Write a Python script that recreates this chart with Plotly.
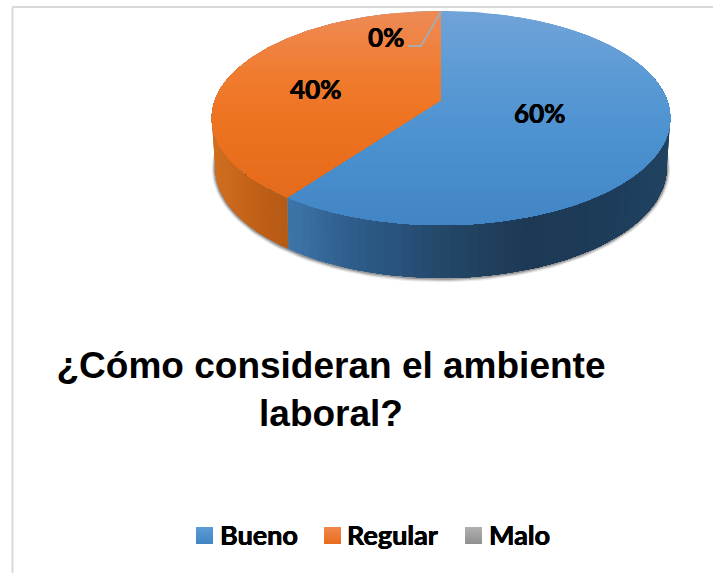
import numpy as np
import plotly.graph_objects as go

# Data
categories = ["Bueno", "Regular", "Malo"]
values = [60, 40, 0]
title_text = "¿Cómo consideran el ambiente<br>laboral?"

W, H = 713, 573
CX = 441
LABEL_FONT = "Lato"
# Lato bold is a little lighter than the original's lettering
HEAVY = "0.35px 0 0 #000, -0.35px 0 0 #000"


def top_xy(deg):
    # tilted disc, angle clockwise from 12 o'clock, with a bit of perspective
    t = np.radians(deg)
    w = 1 - 0.168 * (-np.cos(t))
    return CX + 226 * np.sin(t) / w, 100 + 104 * (-np.cos(t)) / w


def base_xy(deg, grow=0):
    t = np.radians(deg)
    w = 1 - 0.18 * (-np.cos(t))
    return CX + (222 + grow) * np.sin(t) / w, 148 + (106.6 + grow) * (-np.cos(t)) / w


def blend(pos, stops):
    xs = [s[0] for s in stops]
    r = np.interp(pos, xs, [s[1][0] for s in stops])
    g = np.interp(pos, xs, [s[1][1] for s in stops])
    b = np.interp(pos, xs, [s[1][2] for s in stops])
    return f"rgb({r:.0f},{g:.0f},{b:.0f})"


def clip_below(px, py, y0):
    # keep the part of a polygon under the line y = y0
    out_x, out_y = [], []
    n = len(px)
    for i in range(n):
        x1, y1, x2, y2 = px[i], py[i], px[(i + 1) % n], py[(i + 1) % n]
        if y1 >= y0:
            out_x.append(x1)
            out_y.append(y1)
        if (y1 >= y0) != (y2 >= y0):
            out_x.append(x1 + (y0 - y1) / (y2 - y1) * (x2 - x1))
            out_y.append(y0)
    return out_x, out_y


def poly(fig, px, py, color):
    fig.add_trace(go.Scatter(x=list(px) + [px[0]], y=list(py) + [py[0]], mode="lines",
                             fill="toself", fillcolor=color,
                             line=dict(color=color, width=0),
                             hoverinfo="skip", showlegend=False))


def wall(fig, start, stop, stops):
    # each piece runs on to the end of the wall, the next one paints over it
    direction = 1 if stop > start else -1
    for a in np.arange(start, stop, direction * 2.0):
        arc = np.arange(a, stop + direction * 0.5, direction * 2.0)
        arc = np.append(arc[(arc - stop) * direction < 0], stop)
        tx, ty = top_xy(arc)
        bx, by = base_xy(arc[::-1])
        poly(fig, list(tx) + list(bx), list(ty) + list(by), blend(top_xy(a)[0], stops))


# slice angles come from the values
total = sum(values)
edges = np.cumsum([0] + values) / total * 360
bueno_end = edges[1]
regular_end = edges[2]

blue_top = [(11, (112, 163, 216)), (70, (92, 155, 213)), (140, (75, 145, 208)), (225, (66, 133, 196))]
orange_top = [(11, (238, 138, 85)), (70, (240, 124, 48)), (120, (238, 115, 32)), (197, (228, 107, 28))]
blue_wall = [(290, (61, 116, 168)), (340, (47, 95, 142)), (400, (40, 80, 122)), (441, (36, 71, 103)),
             (520, (29, 57, 85)), (600, (29, 60, 89)), (668, (33, 67, 97))]
orange_wall = [(215, (208, 110, 32)), (250, (196, 98, 24)), (290, (181, 90, 21))]

fig = go.Figure()

# soft shadow round the foot of the pie
ring = np.arange(0, 360, 2)
for grow, alpha in [(3.5, 0.10), (2.5, 0.18), (1.5, 0.30)]:
    sx, sy = base_xy(ring, grow)
    poly(fig, sx, sy, f"rgba(50,50,50,{alpha})")

# side wall
wall(fig, bueno_end, 70, blue_wall)
wall(fig, bueno_end, 290, orange_wall)

# top face: whole disc in blue, then the Regular slice over it
disc_x, disc_y = top_xy(np.arange(0, 360, 1.0))
disc_x, disc_y = list(disc_x), list(disc_y)
for y0 in np.arange(11, 225, 3):
    px, py = clip_below(disc_x, disc_y, y0)
    if px:
        poly(fig, px, py, blend(y0, blue_top))

arc_x, arc_y = top_xy(np.arange(bueno_end, regular_end + 0.5, 1.0))
slice_x = [CX] + list(arc_x)
slice_y = [100] + list(arc_y)
for y0 in np.arange(11, 198, 3):
    px, py = clip_below(slice_x, slice_y, y0)
    if px:
        poly(fig, px, py, blend(y0, orange_top))

# leader line of the 0% label
fig.add_trace(go.Scatter(x=[CX, 421, 408], y=[12, 46, 46], mode="lines",
                         line=dict(color="#A9A9A9", width=2),
                         hoverinfo="skip", showlegend=False))

label_pos = [(539, 113), (315, 89), (386, 37)]
annotations = []
for v, (lx, ly) in zip(values, label_pos):
    annotations.append(dict(x=lx, y=ly, xref="x", yref="y", text=f"<b>{v}%</b>", showarrow=False,
                            font=dict(family=LABEL_FONT, size=26, color="#000000", shadow=HEAVY)))

# legend
legend_swatch = [196, 324, 465]
legend_text = [218, 345, 487]
swatch_top = [(91, 155, 213), (240, 135, 75), (175, 175, 175)]
swatch_low = [(66, 133, 196), (232, 108, 28), (145, 145, 145)]
shapes = []
for sx, c1, c2 in zip(legend_swatch, swatch_top, swatch_low):
    for i in range(17):
        col = blend(i, [(0, c1), (16, c2)])
        shapes.append(dict(type="rect", x0=sx, x1=sx + 17, y0=527 + i, y1=544, xref="x", yref="y",
                           fillcolor=col, line=dict(width=0)))
for name, tx in zip(categories, legend_text):
    annotations.append(dict(x=tx, y=534, xref="x", yref="y", text=f"<b>{name}</b>", showarrow=False,
                            xanchor="left", font=dict(family=LABEL_FONT, size=27, color="#000000", shadow=HEAVY)))

# frame of the pasted chart
for x0, y0, x1, y1 in [(12.5, 7, 12.5, H), (12, 7, W, 7)]:
    shapes.append(dict(type="line", x0=x0, y0=y0, x1=x1, y1=y1, xref="x", yref="y",
                       line=dict(color="#D9D9D9", width=2)))

fig.update_layout(
    width=W, height=H,
    margin=dict(l=0, r=0, t=0, b=0),
    paper_bgcolor="white", plot_bgcolor="white",
    showlegend=False,
    title=dict(text=f"<b>{title_text}</b>", x=331 / W, y=1 - 378 / H, xanchor="center", yanchor="middle",
               font=dict(family="Liberation Sans", size=37, color="#000000")),
    xaxis=dict(range=[0, W], visible=False, fixedrange=True),
    yaxis=dict(range=[H, 0], visible=False, fixedrange=True),
    shapes=shapes,
    annotations=annotations,
)

# the page's default body margin would push everything 8px off
fig.write_html("out.html", config=dict(displayModeBar=False),
               post_script="document.body.style.margin='0';document.body.style.overflow='hidden';")
